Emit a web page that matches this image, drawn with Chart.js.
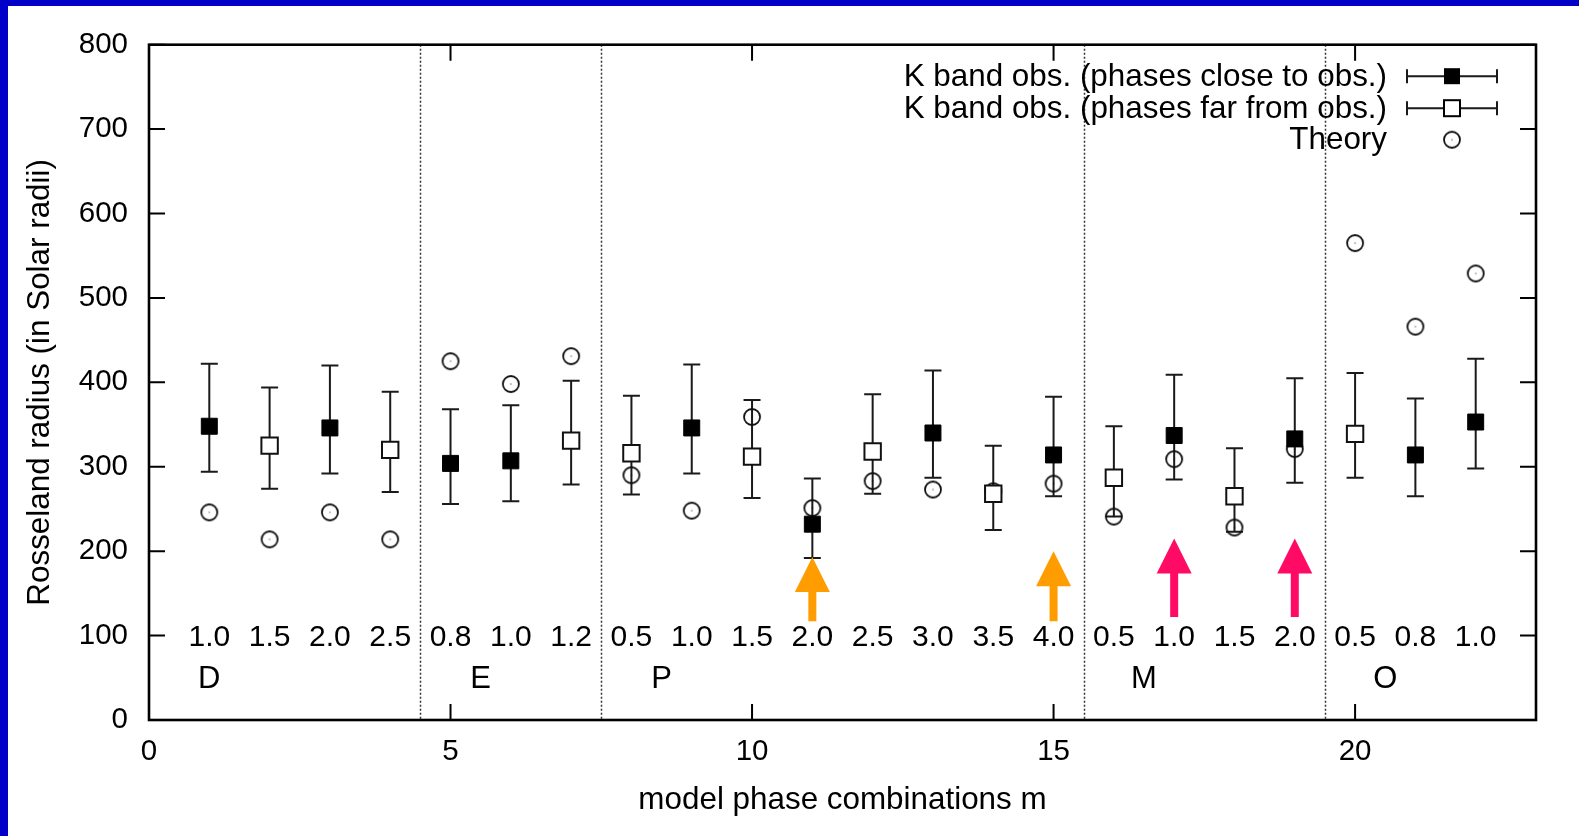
<!DOCTYPE html>
<html>
<head>
<meta charset="utf-8">
<script src="https://cdn.jsdelivr.net/npm/chart.js@4"></script>
<style>
  html, body { margin: 0; padding: 0; background: #0000c8; }
  #wrap { position: absolute; left: 8px; top: 6px; width: 1571px; height: 830px; background: #fff; }
</style>
</head>
<body>
<div id="wrap"><canvas id="chart" width="1571" height="830"></canvas></div>
<script>
// K band obs., phases close to obs. (filled squares)
const closeX = [1, 3, 5, 6, 9, 11, 13, 15, 17, 19, 21, 22];
const closeY = [348, 346, 304, 307, 346, 232, 340, 314, 337, 333, 314, 353];
const closeLo = [294, 292, 256, 259, 292, 192, 287, 265, 285, 281, 265, 298];
const closeHi = [422, 420, 368, 373, 421, 286, 414, 383, 409, 405, 381, 428];

// K band obs., phases far from obs. (open squares)
const farX = [2, 4, 7, 8, 10, 12, 14, 16, 18, 20];
const farY = [325, 320, 331, 316, 312, 318, 268, 287, 265, 339];
const farLo = [274, 270, 279, 267, 263, 268, 225, 241, 223, 287];
const farHi = [394, 389, 402, 384, 379, 386, 325, 348, 322, 411];

// Theory (circles)
const theoryX = [1, 2, 3, 4, 5, 6, 7, 8, 9, 10, 11, 12, 13, 14, 15, 16, 17, 18, 19, 20, 21, 22];
const theoryY = [246, 214, 246, 214, 425, 398, 431, 290, 248, 359, 251, 283, 273, 271, 280, 241, 309, 228, 321, 565, 466, 529];

// labels written inside the plot
const phaseLabels = ['1.0', '1.5', '2.0', '2.5', '0.8', '1.0', '1.2', '0.5', '1.0', '1.5', '2.0',
                     '2.5', '3.0', '3.5', '4.0', '0.5', '1.0', '1.5', '2.0', '0.5', '0.8', '1.0'];
const phaseLabelY = 100;
const groupNames = ['D', 'E', 'P', 'M', 'O'];
const groupCenters = [1, 5.5, 8.5, 16.5, 20.5];
const groupLabelY = 50;
const groupBounds = [4.5, 7.5, 15.5, 19.5];

// highlighted models (arrows)
const arrowX = [11, 15, 17, 19];
const arrowTip = [193, 200, 215, 215];
const arrowTail = [117, 117, 122, 122];
const arrowColors = ['#ff9d00', '#ff9d00', '#ff0a64', '#ff0a64'];

const legendLabels = ['K band obs. (phases close to obs.)', 'K band obs. (phases far from obs.)', 'Theory'];

const FONT = "'Liberation Sans', Arial, Helvetica, sans-serif";
Chart.defaults.font.family = FONT;
Chart.defaults.color = '#000';

function toPoints(xs, ys) {
    return xs.map((x, i) => ({ x: x, y: ys[i] }));
}

// circle with a dot in the middle, like gnuplot point type 6
function circleMarker() {
    const c = document.createElement('canvas');
    c.width = 22; c.height = 22;
    const g = c.getContext('2d');
    g.strokeStyle = '#111';
    g.lineWidth = 1.8;
    g.beginPath();
    g.arc(11, 11, 8, 0, Math.PI * 2);
    g.stroke();
    g.fillStyle = '#111';
    g.fillRect(10.5, 10.5, 1, 1);
    return c;
}
const theoryMarker = circleMarker();

function drawErrorBar(ctx, x, yTop, yBot, half) {
    ctx.beginPath();
    ctx.moveTo(x, yTop); ctx.lineTo(x, yBot);
    ctx.moveTo(x - half, yTop); ctx.lineTo(x + half, yTop);
    ctx.moveTo(x - half, yBot); ctx.lineTo(x + half, yBot);
    ctx.stroke();
}

const errorBars = {
    id: 'errorBars',
    beforeDatasetsDraw(chart) {
        const { ctx, scales: { x, y } } = chart;
        ctx.save();
        ctx.strokeStyle = '#1a1a1a';
        ctx.lineWidth = 2;
        closeX.forEach((v, i) => drawErrorBar(ctx, x.getPixelForValue(v), y.getPixelForValue(closeHi[i]), y.getPixelForValue(closeLo[i]), 8.5));
        farX.forEach((v, i) => drawErrorBar(ctx, x.getPixelForValue(v), y.getPixelForValue(farHi[i]), y.getPixelForValue(farLo[i]), 8.5));
        ctx.restore();
    }
};

const decorations = {
    id: 'decorations',
    beforeDatasetsDraw(chart) {
        const { ctx, chartArea: a, scales: { x, y } } = chart;
        ctx.save();
        // group separators
        ctx.strokeStyle = '#333';
        ctx.lineWidth = 1.5;
        ctx.setLineDash([2, 2]);
        groupBounds.forEach(v => {
            const px = Math.round(x.getPixelForValue(v)) + 0.5;
            ctx.beginPath();
            ctx.moveTo(px, a.top); ctx.lineTo(px, a.bottom);
            ctx.stroke();
        });
        ctx.setLineDash([]);

        // in-plot labels
        ctx.fillStyle = '#000';
        ctx.textAlign = 'center';
        ctx.textBaseline = 'middle';
        ctx.font = '30px ' + FONT;
        phaseLabels.forEach((t, i) => ctx.fillText(t, x.getPixelForValue(theoryX[i]), y.getPixelForValue(phaseLabelY) + 2));
        ctx.font = '31px ' + FONT;
        groupNames.forEach((t, i) => ctx.fillText(t, x.getPixelForValue(groupCenters[i]), y.getPixelForValue(groupLabelY) + 2));

        // arrows
        arrowX.forEach((v, i) => {
            const px = x.getPixelForValue(v);
            const tip = y.getPixelForValue(arrowTip[i]);
            const tail = y.getPixelForValue(arrowTail[i]);
            const headH = 35, headW = 35, shaft = 8;
            ctx.fillStyle = arrowColors[i];
            ctx.beginPath();
            ctx.moveTo(px, tip);
            ctx.lineTo(px + headW / 2, tip + headH);
            ctx.lineTo(px + shaft / 2, tip + headH);
            ctx.lineTo(px + shaft / 2, tail);
            ctx.lineTo(px - shaft / 2, tail);
            ctx.lineTo(px - shaft / 2, tip + headH);
            ctx.lineTo(px - headW / 2, tip + headH);
            ctx.closePath();
            ctx.fill();
        });
        ctx.restore();
    },
    afterDraw(chart) {
        const { ctx, chartArea: a, scales: { x, y } } = chart;
        ctx.save();
        // inward ticks on all four sides
        ctx.strokeStyle = '#000';
        ctx.lineWidth = 2;
        const tl = 16;
        ctx.beginPath();
        y.ticks.forEach(t => {
            const py = y.getPixelForValue(t.value);
            ctx.moveTo(a.left, py); ctx.lineTo(a.left + tl, py);
            ctx.moveTo(a.right, py); ctx.lineTo(a.right - tl, py);
        });
        x.ticks.forEach(t => {
            const px = x.getPixelForValue(t.value);
            ctx.moveTo(px, a.bottom); ctx.lineTo(px, a.bottom - tl);
            ctx.moveTo(px, a.top); ctx.lineTo(px, a.top + tl);
        });
        ctx.stroke();
        // frame
        ctx.lineWidth = 2.6;
        ctx.strokeRect(a.left, a.top, a.right - a.left, a.bottom - a.top);

        // key, gnuplot style: text on the left, sample on the right
        const textRight = a.right - 149;
        const sampleL = a.right - 129, sampleR = a.right - 39, mid = (sampleL + sampleR) / 2;
        const rows = [a.top + 31.5, a.top + 63.5, a.top + 95];
        ctx.font = '31.4px ' + FONT;
        ctx.textAlign = 'right';
        ctx.textBaseline = 'middle';
        ctx.fillStyle = '#000';
        legendLabels.forEach((t, i) => ctx.fillText(t, textRight, rows[i] + 1));
        ctx.strokeStyle = '#1a1a1a';
        ctx.lineWidth = 2;
        [0, 1].forEach(i => {
            ctx.beginPath();
            ctx.moveTo(sampleL, rows[i]); ctx.lineTo(sampleR, rows[i]);
            ctx.moveTo(sampleL, rows[i] - 7); ctx.lineTo(sampleL, rows[i] + 7);
            ctx.moveTo(sampleR, rows[i] - 7); ctx.lineTo(sampleR, rows[i] + 7);
            ctx.stroke();
        });
        ctx.fillStyle = '#000';
        ctx.fillRect(mid - 8, rows[0] - 8, 16, 16);
        ctx.fillStyle = '#fff';
        ctx.fillRect(mid - 8, rows[1] - 8, 16, 16);
        ctx.strokeStyle = '#000';
        ctx.strokeRect(mid - 8, rows[1] - 8, 16, 16);
        ctx.drawImage(theoryMarker, mid - 11, rows[2] - 11);
        ctx.restore();
    }
};

new Chart(document.getElementById('chart'), {
    type: 'scatter',
    data: {
        datasets: [
            {
                label: legendLabels[0],
                data: toPoints(closeX, closeY),
                pointStyle: 'rect',
                pointRadius: 11.3,
                pointHoverRadius: 11.3,
                backgroundColor: '#000',
                borderColor: '#000',
                borderWidth: 1
            },
            {
                label: legendLabels[1],
                data: toPoints(farX, farY),
                pointStyle: 'rect',
                pointRadius: 11.6,
                pointHoverRadius: 11.6,
                backgroundColor: '#fff',
                borderColor: '#111',
                borderWidth: 2
            },
            {
                label: legendLabels[2],
                data: toPoints(theoryX, theoryY),
                pointStyle: theoryMarker,
                pointRadius: 9,
                backgroundColor: 'rgba(0,0,0,0)',
                borderColor: '#111'
            }
        ]
    },
    options: {
        responsive: false,
        animation: false,
        devicePixelRatio: 1,
        layout: { padding: { left: 0, right: 43, top: 36, bottom: 0 } },
        plugins: {
            legend: { display: false },
            tooltip: { enabled: false }
        },
        scales: {
            x: {
                type: 'linear',
                min: 0,
                max: 23,
                grid: { display: false, drawTicks: false },
                border: { display: false },
                ticks: { stepSize: 5, padding: 14, font: { size: 29.5 }, maxRotation: 0 },
                afterBuildTicks: scale => { scale.ticks = scale.ticks.filter(t => t.value % 5 === 0); },
                afterFit: scale => { scale.height = 116; },
                title: {
                    display: true,
                    text: 'model phase combinations m',
                    font: { size: 31.4 },
                    padding: { top: 0, bottom: 17 }
                }
            },
            y: {
                min: 0,
                max: 800,
                grid: { display: false, drawTicks: false },
                border: { display: false },
                ticks: { stepSize: 100, padding: 21, font: { size: 29.5 } },
                afterFit: scale => { scale.width = 141; },
                title: {
                    display: true,
                    text: 'Rosseland radius (in Solar radii)',
                    font: { size: 31.4 },
                    padding: { top: 14, bottom: 0 }
                }
            }
        }
    },
    plugins: [errorBars, decorations]
});
</script>
</body>
</html>
